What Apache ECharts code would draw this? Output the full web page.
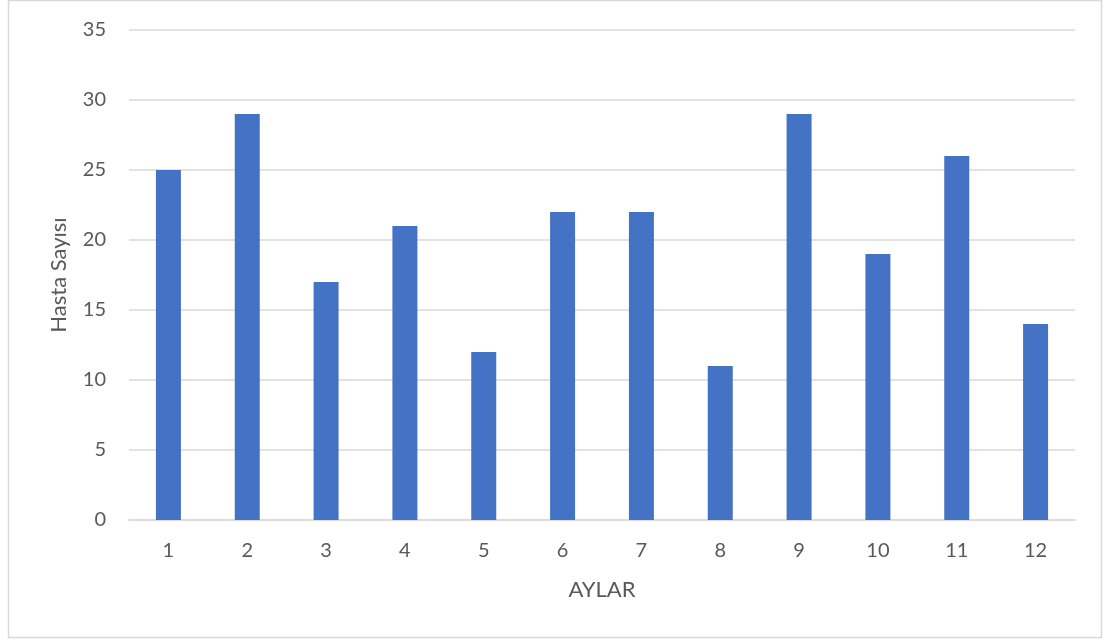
<!DOCTYPE html>
<html>
<head>
<meta charset="utf-8">
<script src="https://cdn.jsdelivr.net/npm/echarts@6/dist/echarts.min.js"></script>
<style>
  html, body { margin: 0; padding: 0; background: #ffffff; }
  #chart { width: 1105px; height: 641px; }
</style>
</head>
<body>
<div id="chart"></div>
<script>
// Monthly patient counts
const months = ['1', '2', '3', '4', '5', '6', '7', '8', '9', '10', '11', '12'];
const patientCounts = [25, 29, 17, 21, 12, 22, 22, 11, 29, 19, 26, 14];
const xAxisTitle = 'AYLAR';
const yAxisTitle = 'Hasta Sayısı';

const FONT = 'Lato, "Open Sans", sans-serif';
const TEXT_COLOR = '#595959';
const GRID_COLOR = '#D9D9D9';

const chart = echarts.init(document.getElementById('chart'), null, { renderer: 'canvas' });

chart.setOption({
  animation: false,
  backgroundColor: '#ffffff',
  textStyle: { fontFamily: FONT },
  graphic: [{
    type: 'rect',
    shape: { x: 8.5, y: 0.5, width: 1093, height: 637 },
    style: { fill: 'none', stroke: '#D9D9D9', lineWidth: 1.5 },
    silent: true
  }],
  grid: { left: 129, right: 30, top: 30, bottom: 121, containLabel: false },
  xAxis: {
    type: 'category',
    data: months,
    name: xAxisTitle,
    nameLocation: 'middle',
    nameGap: 59,
    nameTextStyle: { color: TEXT_COLOR, fontSize: 22, fontFamily: FONT },
    axisLine: { show: true, lineStyle: { color: GRID_COLOR, width: 1.5 } },
    axisTick: { show: false },
    axisLabel: { color: TEXT_COLOR, fontSize: 20, fontFamily: FONT, margin: 21 },
    splitLine: { show: false }
  },
  yAxis: {
    type: 'value',
    min: 0,
    max: 35,
    interval: 5,
    name: yAxisTitle,
    nameLocation: 'middle',
    nameGap: 59,
    nameRotate: 90,
    nameTextStyle: { color: TEXT_COLOR, fontSize: 22, fontFamily: FONT },
    axisLine: { show: false },
    axisTick: { show: false },
    axisLabel: { color: TEXT_COLOR, fontSize: 20, fontFamily: FONT, margin: 23 },
    splitLine: { show: true, lineStyle: { color: GRID_COLOR, width: 1.5 } }
  },
  series: [{
    type: 'bar',
    data: patientCounts,
    barWidth: 25,
    itemStyle: { color: '#4472C4' }
  }]
});
</script>
</body>
</html>
